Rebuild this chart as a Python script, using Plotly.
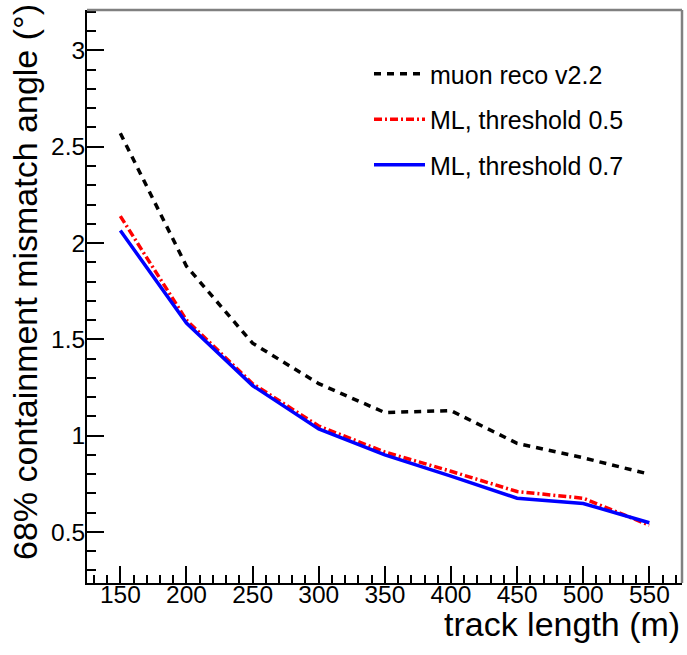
import plotly.graph_objects as go

track_length = [150, 200, 250, 300, 350, 400, 450, 500, 550]
muon_reco_v22 = [2.57, 1.88, 1.48, 1.27, 1.12, 1.13, 0.96, 0.885, 0.80]
ml_thr_05 = [2.14, 1.60, 1.27, 1.05, 0.915, 0.815, 0.71, 0.675, 0.535]
ml_thr_07 = [2.065, 1.585, 1.26, 1.035, 0.90, 0.79, 0.675, 0.648, 0.548]

series_names = ["muon reco v2.2", "ML, threshold 0.5", "ML, threshold 0.7"]
x_tick_vals = [150, 200, 250, 300, 350, 400, 450, 500, 550]
y_tick_vals = [0.5, 1, 1.5, 2, 2.5, 3]

FONT = "Liberation Sans, Arial, Helvetica, sans-serif"

fig = go.Figure()
fig.add_trace(go.Scatter(x=track_length, y=muon_reco_v22, mode="lines",
                         name=series_names[0], legendgroup="a",
                         line=dict(color="black", width=3.5, dash="7px,6px")))
fig.add_trace(go.Scatter(x=track_length, y=ml_thr_05, mode="lines",
                         name=series_names[1], legendgroup="b",
                         line=dict(color="#ff0000", width=3.5, dash="8px,3px,2px,3px")))
fig.add_trace(go.Scatter(x=track_length, y=ml_thr_07, mode="lines",
                         name=series_names[2], legendgroup="c",
                         line=dict(color="#0000ff", width=3.5)))

W, H = 687, 655
L, R, T, B = 87, 5, 10, 72
pw = W - L - R
ph = H - T - B

fig.update_layout(
    width=W, height=H,
    margin=dict(l=L, r=R, t=T, b=B, pad=0),
    paper_bgcolor="white", plot_bgcolor="white",
    font=dict(family=FONT, size=24, color="black"),
    showlegend=True,
    legend=dict(x=(369 - L) / pw, y=1 - (51 - T) / ph, xanchor="left", yanchor="top",
                bgcolor="rgba(0,0,0,0)", borderwidth=0, tracegroupgap=10,
                font=dict(size=25, family=FONT), itemwidth=51),
)

fig.update_xaxes(
    range=[124.8, 574.7], tickvals=x_tick_vals, ticks="inside", ticklen=17, tickwidth=1.5,
    tickcolor="black", showline=True, linecolor="black", linewidth=2,
    showgrid=False, zeroline=False, tickfont=dict(size=24.5), ticklabelstandoff=-11,
    minor=dict(dtick=10, tick0=150, ticks="inside", ticklen=8, tickwidth=1.5, tickcolor="black", showgrid=False),
)
fig.update_yaxes(
    range=[0.235, 3.21], tickvals=y_tick_vals, ticks="inside", ticklen=17, tickwidth=1.5,
    tickcolor="black", showline=True, linecolor="black", linewidth=2,
    showgrid=False, zeroline=False, tickfont=dict(size=24.5), ticklabelstandoff=-5,
    minor=dict(dtick=0.1, tick0=0, ticks="inside", ticklen=9, tickwidth=1.5, tickcolor="black", showgrid=False),
)

# grey frame on top and right
fig.add_shape(type="line", xref="paper", yref="paper", x0=0, x1=1, y0=1, y1=1,
              line=dict(color="#808080", width=2.5))
fig.add_shape(type="line", xref="paper", yref="paper", x0=1, x1=1, y0=0, y1=1,
              line=dict(color="#808080", width=2.5))

fig.add_annotation(text="track length (m)", xref="paper", yref="paper",
                   x=(681 - L) / pw, y=-(624 - (T + ph)) / ph, xanchor="right", yanchor="middle",
                   showarrow=False, borderpad=0, font=dict(size=34, family=FONT))
fig.add_annotation(text="68% containment mismatch angle (°)", xref="paper", yref="paper",
                   x=(25 - L) / pw, y=1 - (2 - T) / ph, xanchor="center", yanchor="top",
                   textangle=-90, showarrow=False, font=dict(size=34, family=FONT))

fig.write_html("out.html", config={"displayModeBar": False},
               post_script="document.body.style.margin='0';document.body.style.padding='0';document.body.style.overflow='hidden';")
